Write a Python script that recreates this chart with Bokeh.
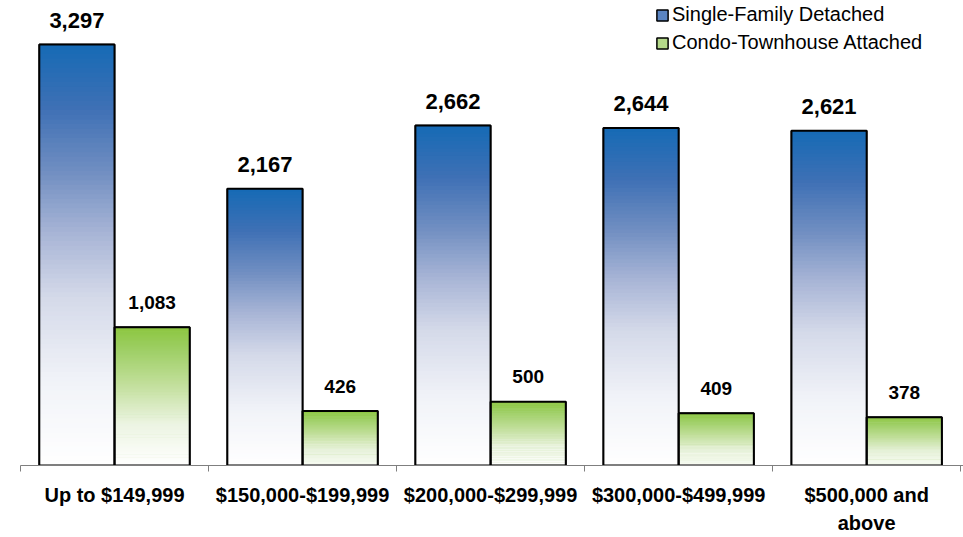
import numpy as np
from bokeh.plotting import figure
from bokeh.models import ColumnDataSource, FixedTicker, Legend, LegendItem, Range1d
from bokeh.core.properties import value
from bokeh.embed import file_html
from bokeh.resources import INLINE

categories = ["Up to $149,999", "$150,000-$199,999", "$200,000-$299,999",
              "$300,000-$499,999", "$500,000 and\nabove"]
single_family = [3297, 2167, 2662, 2644, 2621]
condo = [1083, 426, 500, 409, 378]
series_names = ["Single-Family Detached", "Condo-Townhouse Attached"]

FONT = "Liberation Sans"

# gradient stops (t=0 bottom, t=1 top)
blue_stops = [(0.0, (255, 255, 255)), (0.2, (241, 243, 248)), (0.4, (212, 217, 233)),
              (0.55, (168, 181, 214)), (0.7, (112, 142, 193)), (0.85, (62, 112, 181)),
              (1.0, (22, 106, 181))]
green_stops = [(0.0, (255, 255, 255)), (0.3, (236, 244, 226)), (0.6, (192, 222, 152)),
               (0.85, (156, 206, 98)), (1.0, (140, 198, 63))]


def interp(stops, t):
    for (t0, c0), (t1, c1) in zip(stops[:-1], stops[1:]):
        if t <= t1:
            f = (t - t0) / (t1 - t0) if t1 > t0 else 0
            c = [int(round(a + (b - a) * f)) for a, b in zip(c0, c1)]
            return "#%02x%02x%02x" % tuple(c)
    return "#%02x%02x%02x" % stops[-1][1]


p = figure(width=963, height=537, output_backend="svg", toolbar_location=None,
           x_range=Range1d(0, 5.015), y_range=Range1d(0, 3642),
           min_border_left=20, min_border_right=0, min_border_top=0, min_border_bottom=40)
p.xgrid.visible = False
p.ygrid.visible = False
p.yaxis.visible = False
p.outline_line_color = None
p.background_fill_color = "white"

N = 90
offsets = [-0.2, 0.2]
width = 0.4
all_series = [single_family, condo]
stops_list = [blue_stops, green_stops]
leg_colors = ["#5a84c2", "#b5d98a"]

# solid bars underneath (used as legend swatches, hidden by the gradient)
legend_renderers = []
for vals, off, col in zip(all_series, offsets, leg_colors):
    xs = [i + 0.5 + off for i in range(len(vals))]
    r = p.vbar(x=xs, top=vals, bottom=0, width=width, fill_color=col,
               line_color="black", line_width=1.5)
    legend_renderers.append(r)

for vals, off, stops in zip(all_series, offsets, stops_list):
    L, R, B, T, C = [], [], [], [], []
    for i, v in enumerate(vals):
        xc = i + 0.5 + off
        for k in range(N):
            t = (k + 0.5) / N
            L.append(xc - width / 2)
            R.append(xc + width / 2)
            B.append(v * k / N)
            T.append(min(v, v * (k + 1.4) / N))
            C.append(interp(stops, t))
    src = ColumnDataSource(dict(left=L, right=R, bottom=B, top=T, color=C))
    p.quad(left="left", right="right", bottom="bottom", top="top", fill_color="color",
           line_color=None, source=src)

# outlines and value labels
label_sizes = ["22px", "19px"]
label_offsets = [-24, -25]
for vals, off, fs, yo in zip(all_series, offsets, label_sizes, label_offsets):
    xs = [i + 0.5 + off for i in range(len(vals))]
    src = ColumnDataSource(dict(x=xs, top=vals, text=[f"{v:,}" for v in vals]))
    p.vbar(x="x", top="top", bottom=0, width=width, source=src, fill_color=None,
           line_color="black", line_width=2)
    p.text(x="x", y="top", text="text", source=src, text_align="center",
           text_baseline="middle", y_offset=yo, text_font=value(FONT),
           text_font_size=fs, text_font_style="bold", text_color="black")

# legend
items = [LegendItem(label=name, renderers=[r]) for name, r in zip(series_names, legend_renderers)]
legend = Legend(items=items, location=(635, 411), label_text_font=FONT,
                label_text_font_size="20px", label_text_color="black",
                glyph_width=14, glyph_height=14,
                spacing=5, padding=0, margin=0, border_line_color=None,
                background_fill_alpha=0, label_standoff=3, label_height=22)
p.add_layout(legend)

# x axis: tick marks at category boundaries, labels at category centres
ax = p.xaxis[0]
ax.ticker = FixedTicker(ticks=[i + 0.5 for i in range(len(categories))],
                        minor_ticks=list(range(len(categories) + 1)))
ax.major_label_overrides = {i + 0.5: c for i, c in enumerate(categories)}
ax.major_tick_out = 0
ax.major_tick_in = 0
ax.minor_tick_out = 6
ax.minor_tick_in = 0
ax.minor_tick_line_color = "#7f7f7f"
ax.axis_line_color = "#7f7f7f"
ax.axis_line_width = 1
ax.major_label_standoff = 12
ax.major_label_text_font = FONT
ax.major_label_text_font_size = "20px"
ax.major_label_text_font_style = "bold"
ax.major_label_text_color = "black"
ax.major_label_text_line_height = 1.3

open("out.html", "w").write(file_html(p, INLINE))
